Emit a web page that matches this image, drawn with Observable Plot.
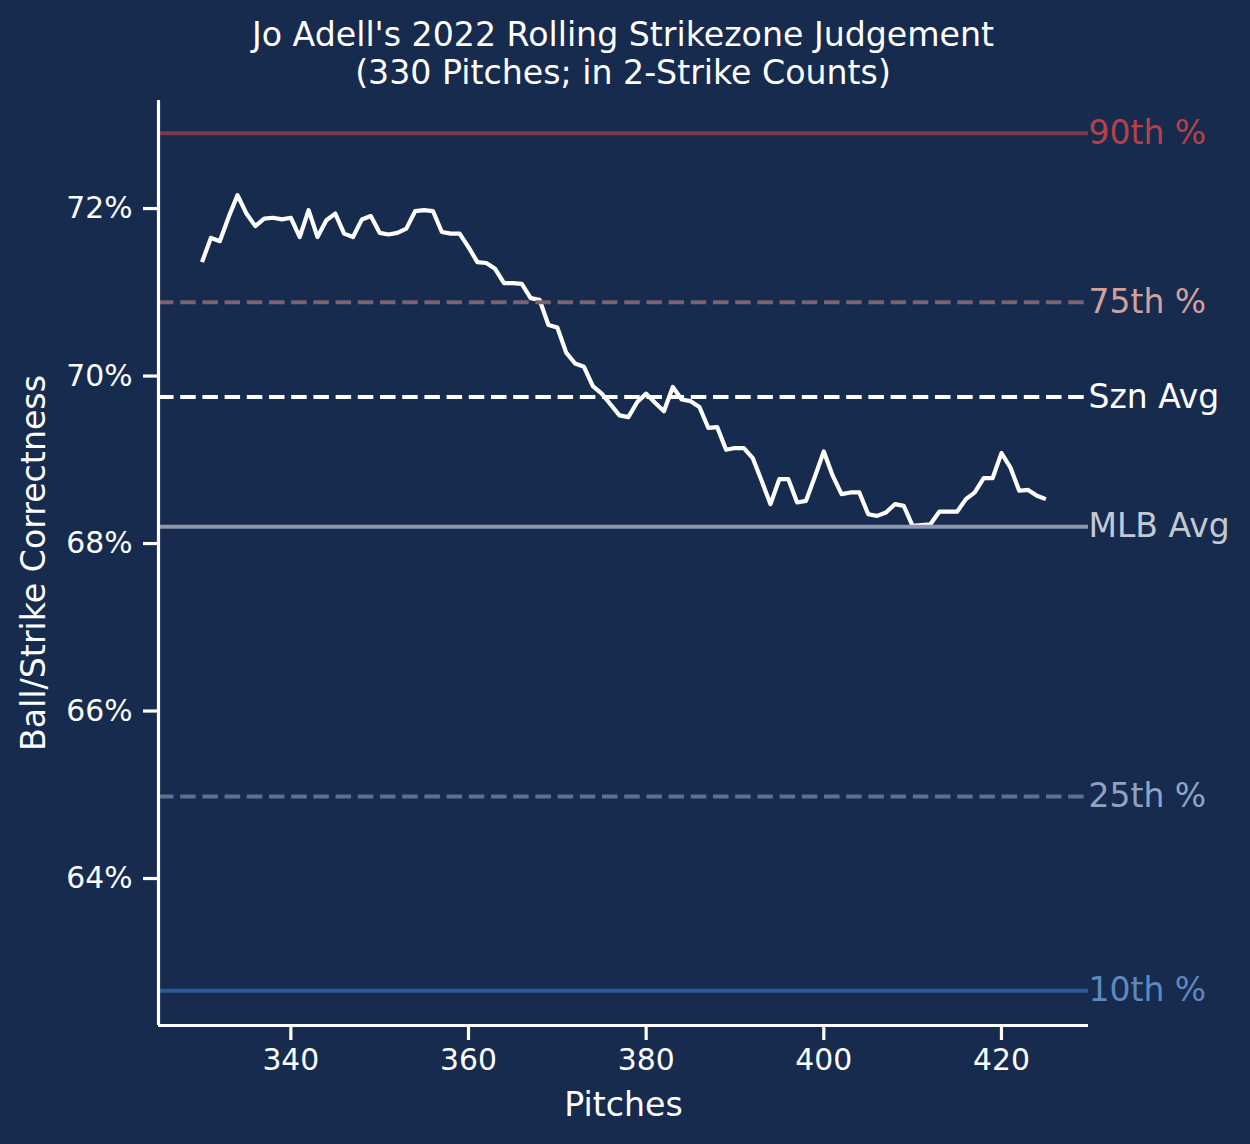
<!DOCTYPE html>
<html>
<head>
<meta charset="utf-8">
<script src="https://cdn.jsdelivr.net/npm/d3@7"></script>
<script src="https://cdn.jsdelivr.net/npm/@observablehq/plot@0.6"></script>
<style>
  html, body { margin: 0; padding: 0; background: #172b4f; }
  #wrap { width: 1250px; height: 1144px; background: #172b4f; font-family: "DejaVu Sans", sans-serif; color: #fff; }
  #title { box-sizing: border-box; height: 90px; padding-top: 16px; padding-left: 158px; width: 1088px;
           text-align: center; font-size: 33.2px; line-height: 38px; color: #fff; white-space: nowrap; }
  svg { display: block; }
</style>
</head>
<body>
<div id="wrap">
  <div id="title">Jo Adell's 2022 Rolling Strikezone Judgement<br>(330 Pitches; in 2-Strike Counts)</div>
  <div id="chart"></div>
</div>
<script>
// Data
const pitches = [330,331,332,333,334,335,336,337,338,339,340,341,342,343,344,345,346,347,348,349,
  350,351,352,353,354,355,356,357,358,359,360,361,362,363,364,365,366,367,368,369,
  370,371,372,373,374,375,376,377,378,379,380,381,382,383,384,385,386,387,388,389,
  390,391,392,393,394,395,396,397,398,399,400,401,402,403,404,405,406,407,408,409,
  410,411,412,413,414,415,416,417,418,419,420,421,422,423,424,425];
const correctness = [71.36,71.65,71.61,71.90,72.16,71.94,71.79,71.88,71.89,71.87,
  71.89,71.66,71.98,71.66,71.86,71.94,71.70,71.66,71.87,71.91,
  71.71,71.69,71.71,71.76,71.97,71.98,71.97,71.72,71.70,71.70,
  71.54,71.36,71.35,71.28,71.11,71.11,71.10,70.93,70.91,70.61,
  70.58,70.28,70.15,70.11,69.88,69.79,69.66,69.53,69.51,69.69,
  69.79,69.68,69.58,69.87,69.72,69.70,69.63,69.38,69.39,69.12,
  69.14,69.14,69.02,68.75,68.47,68.77,68.77,68.49,68.51,68.80,
  69.10,68.81,68.59,68.61,68.61,68.35,68.33,68.37,68.47,68.45,
  68.21,68.22,68.23,68.38,68.38,68.38,68.53,68.61,68.78,68.78,
  69.08,68.91,68.63,68.64,68.57,68.53];

const refLabels = ["90th %", "75th %", "Szn Avg", "MLB Avg", "25th %", "10th %"];
const refValues = [72.90, 70.88, 69.75, 68.20, 64.98, 62.66];
const refTextColors = ["#b8404a", "#d4a09b", "#ffffff", "#c3c9d3", "#8ea4c4", "#5d88c0"];
const refLineColors = ["#7a3a4c", "#7a6270", "#ffffff", "#8e98ab", "#5c7090", "#2c5a96"];
const refDashed = [false, true, true, false, true, false];

const yTicks = [64, 66, 68, 70, 72];
const xTicks = [340, 360, 380, 400, 420];
const xDomain = [325.1, 429.8];
const yDomain = [62.245, 73.29];
const xLabel = "Pitches";
const yLabel = "Ball/Strike Correctness";

const series = pitches.map((p, i) => ({pitch: p, value: correctness[i]}));
const refs = refLabels.map((l, i) => ({label: l, value: refValues[i], text: refTextColors[i], line: refLineColors[i], dashed: refDashed[i]}));

const chart = Plot.plot({
  width: 1250,
  height: 1054,
  marginLeft: 158,
  marginRight: 162,
  marginTop: 10,
  marginBottom: 119,
  style: {background: "#172b4f", color: "#ffffff", fontFamily: "DejaVu Sans, sans-serif", overflow: "visible"},
  x: {domain: xDomain},
  y: {domain: yDomain},
  marks: [
    Plot.line(series, {x: "pitch", y: "value", stroke: "#ffffff", strokeWidth: 4.2, strokeLinejoin: "round", strokeLinecap: "butt"}),
    Plot.ruleY(refs.filter(d => !d.dashed), {y: "value", stroke: "line", strokeWidth: 4}),
    Plot.ruleY(refs.filter(d => d.dashed), {y: "value", stroke: "line", strokeWidth: 4, strokeDasharray: "15.5,6.7"}),
    Plot.text(refs, {x: () => xDomain[1], y: "value", text: "label", fill: "text", textAnchor: "start", lineAnchor: "middle", dx: 0, fontSize: 33}),
    Plot.ruleX([xDomain[0]], {stroke: "#ffffff", strokeWidth: 3.2}),
    Plot.ruleY([yDomain[0]], {stroke: "#ffffff", strokeWidth: 3.2}),
    Plot.axisY({ticks: yTicks, tickFormat: d => d + "%", tickSize: 15, tickPadding: 11, strokeWidth: 3.2, fontSize: 29.8, label: null}),
    Plot.axisX({ticks: xTicks, tickFormat: d => String(d), tickSize: 15, tickPadding: 8, strokeWidth: 3.2, fontSize: 29.8, label: null}),
    Plot.text([xLabel], {text: d => d, frameAnchor: "bottom", lineAnchor: "bottom", dy: 90, fontSize: 33.2, fill: "#ffffff"}),
    Plot.text([yLabel], {text: d => d, frameAnchor: "left", rotate: -90, lineAnchor: "bottom", textAnchor: "middle", dx: -114, fontSize: 33.2, fill: "#ffffff"})
  ]
});
document.getElementById("chart").appendChild(chart);
</script>
</body>
</html>
